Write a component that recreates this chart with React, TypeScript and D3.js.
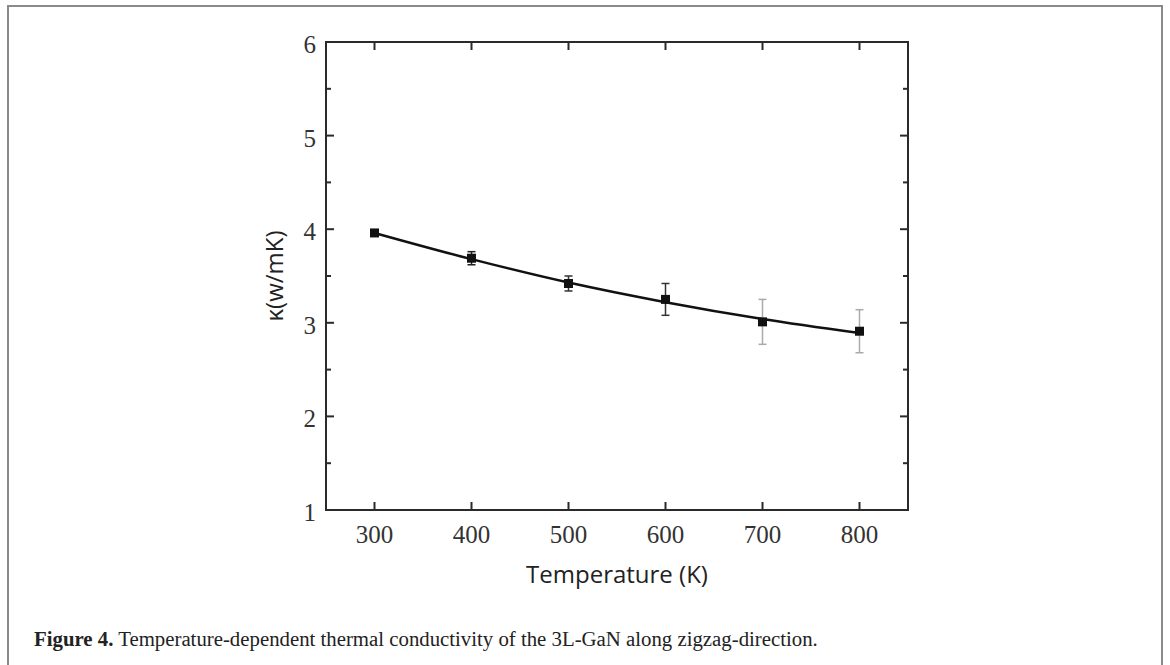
import { useRef, useEffect } from 'react';
import * as d3 from 'd3';

const temps = [300, 400, 500, 600, 700, 800];
const kappa = [3.96, 3.69, 3.42, 3.25, 3.01, 2.91];
const errUp = [0.03, 0.07, 0.08, 0.17, 0.24, 0.23];
const errDown = [0.03, 0.07, 0.08, 0.17, 0.24, 0.23];
const errColor = ['#222', '#222', '#333', '#333', '#aaa', '#aaa'];
// fitted curve
const fitT = [300, 400, 500, 600, 700, 800];
const fitK = [3.96, 3.68, 3.43, 3.22, 3.04, 2.89];
const xTicks = [300, 400, 500, 600, 700, 800];
const yTicks = [1, 2, 3, 4, 5, 6];
const yMinor = [1.5, 2.5, 3.5, 4.5, 5.5];

const W = 1170;
const H = 665;
const left = 326, right = 908, top = 42, bottom = 510;

const App = () => {
  const ref = useRef<SVGSVGElement>(null);

  useEffect(() => {
    const svg = d3.select(ref.current);
    svg.selectAll('*').remove();

    const x = d3.scaleLinear().domain([250, 850]).range([left, right]);
    const y = d3.scaleLinear().domain([1, 6]).range([bottom, top]);

    // page box
    svg.append('rect')
      .attr('x', 8).attr('y', 6).attr('width', 1154).attr('height', 680)
      .attr('fill', 'white').attr('stroke', '#8a8a8a').attr('stroke-width', 2);

    const g = svg.append('g');
    const axisColor = '#2a2a2a';

    // ticks, all pointing inward
    const tickLine = (x1: number, y1: number, x2: number, y2: number) =>
      g.append('line').attr('x1', x1).attr('y1', y1).attr('x2', x2).attr('y2', y2)
        .attr('stroke', axisColor).attr('stroke-width', 2);

    xTicks.forEach(t => {
      tickLine(x(t), bottom, x(t), bottom - 8);
      tickLine(x(t), top, x(t), top + 8);
    });
    yTicks.forEach(t => {
      tickLine(left, y(t), left + 8, y(t));
      tickLine(right, y(t), right - 8, y(t));
    });
    yMinor.forEach(t => {
      tickLine(left, y(t), left + 5, y(t));
      tickLine(right, y(t), right - 5, y(t));
    });

    g.append('rect')
      .attr('x', left).attr('y', top).attr('width', right - left).attr('height', bottom - top)
      .attr('fill', 'none').attr('stroke', axisColor).attr('stroke-width', 2);

    // tick labels
    g.selectAll('.xl').data(xTicks).enter().append('text')
      .attr('x', d => x(d)).attr('y', bottom + 33)
      .attr('text-anchor', 'middle')
      .style('font-family', '"Liberation Serif", serif').style('font-size', '25px')
      .attr('fill', '#333')
      .text(d => d);

    g.selectAll('.yl').data(yTicks).enter().append('text')
      .attr('x', left - 10).attr('y', d => y(d) + 11)
      .attr('text-anchor', 'end')
      .style('font-family', '"Liberation Serif", serif').style('font-size', '25px')
      .attr('fill', '#333')
      .text(d => d);

    // axis titles
    g.append('text')
      .attr('x', (left + right) / 2).attr('y', 583)
      .attr('text-anchor', 'middle')
      .style('font-family', '"Open Sans", sans-serif').style('font-size', '24px')
      .attr('fill', '#222')
      .text('Temperature (K)');

    g.append('text')
      .attr('transform', `translate(283, ${(top + bottom) / 2}) rotate(-90)`)
      .attr('text-anchor', 'middle')
      .style('font-family', '"Open Sans", sans-serif').style('font-size', '24px')
      .attr('fill', '#222')
      .text('κ(w/mK)');

    // fit curve
    const line = d3.line<number>()
      .x((d, i) => x(fitT[i]))
      .y(d => y(d))
      .curve(d3.curveMonotoneX);
    g.append('path')
      .attr('d', line(fitK))
      .attr('fill', 'none').attr('stroke', '#111').attr('stroke-width', 2.5);

    // error bars
    temps.forEach((t, i) => {
      const cx = x(t);
      const y1 = y(kappa[i] + errUp[i]);
      const y2 = y(kappa[i] - errDown[i]);
      const c = errColor[i];
      g.append('line').attr('x1', cx).attr('x2', cx).attr('y1', y1).attr('y2', y2)
        .attr('stroke', c).attr('stroke-width', 1.5);
      [y1, y2].forEach(yy => {
        g.append('line').attr('x1', cx - 4).attr('x2', cx + 4).attr('y1', yy).attr('y2', yy)
          .attr('stroke', c).attr('stroke-width', 1.5);
      });
    });

    // markers
    g.selectAll('.pt').data(temps).enter().append('rect')
      .attr('x', d => x(d) - 4.5)
      .attr('y', (d, i) => y(kappa[i]) - 4.5)
      .attr('width', 9).attr('height', 9)
      .attr('fill', '#111');

    // caption
    const cap = svg.append('text')
      .attr('x', 34).attr('y', 646)
      .style('font-family', '"Liberation Serif", serif').style('font-size', '20.8px')
      .attr('fill', '#222');
    cap.append('tspan').attr('font-weight', 'bold').text('Figure 4.');
    cap.append('tspan').text(' Temperature-dependent thermal conductivity of the 3L-GaN along zigzag-direction.');
  }, []);

  return (
    <div style={{ position: 'absolute', left: 0, top: 0 }}>
      <svg ref={ref} width={W} height={H} viewBox={`0 0 ${W} ${H}`}></svg>
    </div>
  );
};

export default App;
